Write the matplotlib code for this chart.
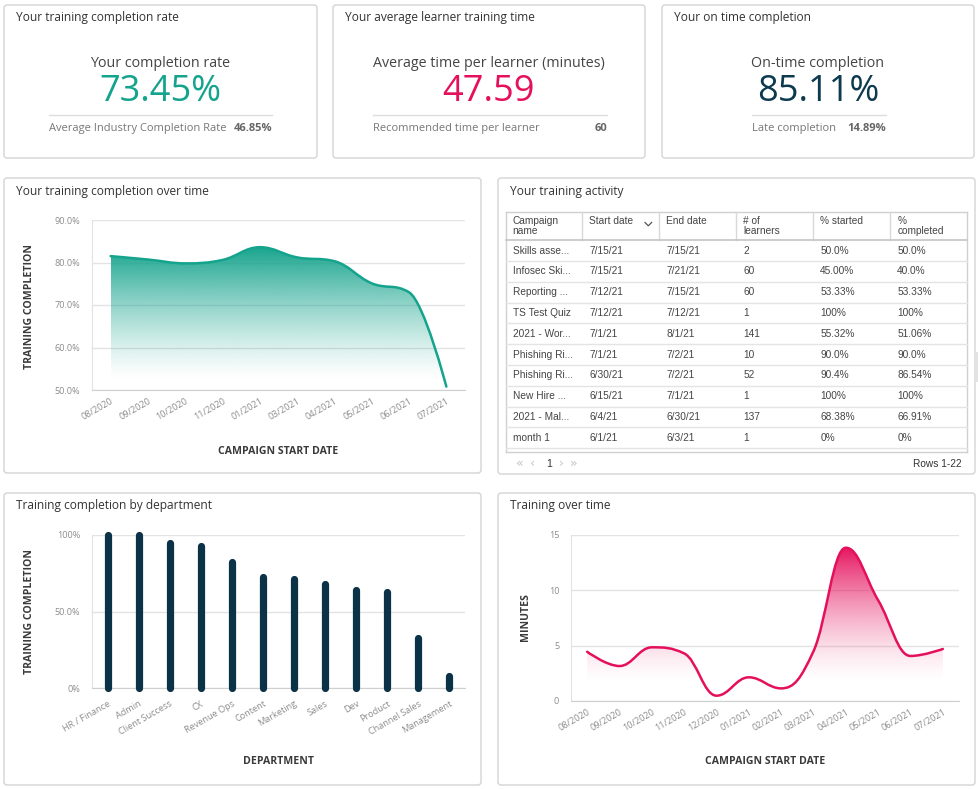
import numpy as np
import matplotlib.pyplot as plt
from matplotlib.path import Path
from matplotlib.patches import PathPatch, FancyBboxPatch, Rectangle
from matplotlib.colors import to_rgb

plt.rcParams['font.family'] = ['Open Sans', 'DejaVu Sans']

W, H = 979, 789

# ── DATA ────────────────────────────────────────────────────────────────────
completion_months = ['08/2020', '09/2020', '10/2020', '11/2020', '01/2021',
                     '03/2021', '04/2021', '05/2021', '06/2021', '07/2021']
completion_rate = [81.5, 80.7, 79.8, 80.6, 83.6, 81.2, 80.3, 75.1, 73.0, 50.8]

departments = ['HR / Finance', 'Admin', 'Client Success', 'CX', 'Revenue Ops',
               'Content', 'Marketing', 'Sales', 'Dev', 'Product',
               'Channel Sales', 'Management']
dept_completion = [100, 100, 95, 92.8, 82.5, 72.7, 71.4, 67.7, 64, 62.5, 32.7, 8.1]

minutes_months = ['08/2020', '09/2020', '10/2020', '11/2020', '12/2020', '01/2021',
                  '02/2021', '03/2021', '04/2021', '05/2021', '06/2021', '07/2021']
minutes = [4.45, 3.16, 4.85, 4.3, 0.48, 2.14, 1.14, 4.5, 13.85, 9.1, 4.07, 4.7]

kpi_titles = ['Your training completion rate', 'Your average learner training time',
              'Your on time completion']
kpi_labels = ['Your completion rate', 'Average time per learner (minutes)',
              'On-time completion']
kpi_values = ['73.45%', '47.59', '85.11%']
kpi_foot_labels = ['Average Industry Completion Rate', 'Recommended time per learner',
                   'Late completion']
kpi_foot_values = ['46.85%', '60', '14.89%']

table_headers = ['Campaign\nname', 'Start date', 'End date', '# of\nlearners',
                 '% started', '%\ncompleted']
table_rows = [
    ['Skills asse...', '7/15/21', '7/15/21', '2', '50.0%', '50.0%'],
    ['Infosec Ski...', '7/15/21', '7/21/21', '60', '45.00%', '40.0%'],
    ['Reporting ...', '7/12/21', '7/15/21', '60', '53.33%', '53.33%'],
    ['TS Test Quiz', '7/12/21', '7/12/21', '1', '100%', '100%'],
    ['2021 - Wor...', '7/1/21', '8/1/21', '141', '55.32%', '51.06%'],
    ['Phishing Ri...', '7/1/21', '7/2/21', '10', '90.0%', '90.0%'],
    ['Phishing Ri...', '6/30/21', '7/2/21', '52', '90.4%', '86.54%'],
    ['New Hire ...', '6/15/21', '7/1/21', '1', '100%', '100%'],
    ['2021 - Mal...', '6/4/21', '6/30/21', '137', '68.38%', '66.91%'],
    ['month 1', '6/1/21', '6/3/21', '1', '0%', '0%'],
]

TEAL = '#14a38c'
PINK = '#e5105b'
NAVY = '#0d3a4f'
BAR = '#0b3246'


def fig_rect(l, t, r, b):
    return [l / W, 1 - b / H, (r - l) / W, (b - t) / H]


def spline_path(xs, ys, smoothing=1.5):
    # bezier spline through the points, extremes kept at the points
    n = len(xs)
    lc, rc = [None] * n, [None] * n
    d = smoothing + 1
    for i in range(n):
        x, y = xs[i], ys[i]
        if i == 0 or i == n - 1:
            lc[i] = rc[i] = (x, y)
            continue
        lx, ly, nx, ny = xs[i - 1], ys[i - 1], xs[i + 1], ys[i + 1]
        lcx, lcy = (smoothing * x + lx) / d, (smoothing * y + ly) / d
        rcx, rcy = (smoothing * x + nx) / d, (smoothing * y + ny) / d
        corr = (rcy - lcy) * (rcx - x) / (rcx - lcx) + y - rcy
        lcy += corr
        rcy += corr
        if lcy > max(ly, y):
            lcy = max(ly, y); rcy = 2 * y - lcy
        elif lcy < min(ly, y):
            lcy = min(ly, y); rcy = 2 * y - lcy
        if rcy > max(ny, y):
            rcy = max(ny, y); lcy = 2 * y - rcy
        elif rcy < min(ny, y):
            rcy = min(ny, y); lcy = 2 * y - rcy
        lc[i], rc[i] = (lcx, lcy), (rcx, rcy)
    verts = [(xs[0], ys[0])]
    codes = [Path.MOVETO]
    for i in range(1, n):
        verts += [rc[i - 1], lc[i], (xs[i], ys[i])]
        codes += [Path.CURVE4] * 3
    return Path(verts, codes)


def gradient_area(ax, xs, ys, color, base, y_lo, y_hi, power):
    line = spline_path(xs, ys)
    verts = list(line.vertices) + [(xs[-1], base), (xs[0], base), (xs[0], ys[0])]
    codes = list(line.codes) + [Path.LINETO, Path.LINETO, Path.CLOSEPOLY]
    area = PathPatch(Path(verts, codes), fc='none', ec='none')
    ax.add_patch(area)
    t = np.linspace(0, 1, 256)
    rgba = np.zeros((256, 1, 4))
    rgba[..., :3] = to_rgb(color)
    rgba[:, 0, 3] = t ** power
    im = ax.imshow(rgba, extent=[xs[0], xs[-1], y_lo, y_hi], origin='lower',
                   aspect='auto', zorder=1, interpolation='bilinear')
    im.set_clip_path(area)
    ax.add_patch(PathPatch(line, fc='none', ec=color, lw=1.8, zorder=3,
                           capstyle='round', joinstyle='round'))


def style_chart(ax):
    ax.set_facecolor('none')
    for s in ['top', 'right']:
        ax.spines[s].set_visible(False)
    ax.spines['left'].set_color('#e2e2e2')
    ax.spines['bottom'].set_color('#cfcfcf')
    ax.grid(axis='y', color='#e3e3e3', lw=1)
    ax.set_axisbelow(True)
    ax.tick_params(length=0, labelsize=6.6, labelcolor='#8c8c8c')
    ax.tick_params(axis='y', pad=8.5)
    ax.tick_params(axis='x', pad=5)


fig = plt.figure(figsize=(W / 100, H / 100), dpi=100)
fig.patch.set_facecolor('white')
bg = fig.add_axes([0, 0, 1, 1])
bg.set_xlim(0, W)
bg.set_ylim(H, 0)
bg.axis('off')

# ── PANELS ─────────────────────────────────────────────────────────────────
panels = [(4, 5, 317, 158), (333, 5, 645, 158), (662, 5, 974, 158),
          (4, 178, 481, 473), (498, 178, 975, 474),
          (4, 493, 481, 785), (498, 493, 975, 785)]
for l, t, r, b in panels:
    bg.add_patch(FancyBboxPatch((l, t), r - l, b - t,
                                boxstyle='round,pad=0,rounding_size=3',
                                fc='white', ec='#d4d4d4', lw=1))
bg.add_patch(Rectangle((975, 352), 4, 30, fc='#e3e3e3', ec='none'))

# ── KPI CARDS ──────────────────────────────────────────────────────────────
card_lefts = [4, 333, 662]
card_centers = [160.5, 489, 818]
rule_spans = [(49, 272), (373, 607), (752, 886)]
value_colors = [TEAL, PINK, NAVY]
for i in range(3):
    bg.text(card_lefts[i] + 12, 17, kpi_titles[i], fontsize=8.6, color='#333333',
            va='center', ha='left')
    bg.text(card_centers[i], 63, kpi_labels[i], fontsize=10.3, color='#444444',
            va='center', ha='center')
    bg.text(card_centers[i], 92, kpi_values[i], fontsize=26, color=value_colors[i],
            va='center', ha='center')
    x0, x1 = rule_spans[i]
    bg.plot([x0, x1], [115, 115], color='#dddddd', lw=1)
    bg.text(x0, 128, kpi_foot_labels[i], fontsize=8.0, color='#777777',
            va='center', ha='left')
    bg.text(x1, 128, kpi_foot_values[i], fontsize=8.0, color='#666666',
            va='center', ha='right', fontweight='bold')

# ── PANEL TITLES & AXIS TITLES ─────────────────────────────────────────────
ptitle = dict(fontsize=8.6, color='#333333', va='center')
bg.text(16, 191, 'Your training completion over time', **ptitle)
bg.text(510, 191, 'Your training activity', **ptitle)
bg.text(16, 506, 'Training completion by department', **ptitle)
bg.text(510, 506, 'Training over time', **ptitle)

axis_title = dict(fontsize=7.6, fontweight='bold', color='#3a3a3a', ha='center', va='center')
bg.text(30, 306, 'TRAINING COMPLETION', rotation=90, **axis_title)
bg.text(278.5, 451, 'CAMPAIGN START DATE', **axis_title)
bg.text(30, 612, 'TRAINING COMPLETION', rotation=90, **axis_title)
bg.text(278.5, 761, 'DEPARTMENT', **axis_title)
bg.text(526, 617, 'MINUTES', rotation=90, **axis_title)
bg.text(765, 762, 'CAMPAIGN START DATE', **axis_title)

# ── TABLE ──────────────────────────────────────────────────────────────────
col_edges = [505.7, 582.3, 659.3, 736.3, 813.3, 890.3, 967.3]
head_top, head_bot, row_h = 211.7, 240.2, 20.8
table_bot = 452.3
tfont = dict(family=['Liberation Sans', 'DejaVu Sans'], fontsize=7.3, color='#444444')
bg.plot([col_edges[0], col_edges[-1]], [head_top, head_top], color='#d0d0d0', lw=1)
bg.plot([col_edges[0], col_edges[-1]], [table_bot, table_bot], color='#d0d0d0', lw=1)
bg.plot([col_edges[0], col_edges[0]], [head_top, table_bot], color='#d0d0d0', lw=1)
bg.plot([col_edges[-1], col_edges[-1]], [head_top, table_bot], color='#d0d0d0', lw=1)
for x in col_edges[1:-1]:
    bg.plot([x, x], [head_top, head_bot], color='#d8d8d8', lw=1)
bg.plot([col_edges[0], col_edges[-1]], [head_bot, head_bot], color='#c4c4c4', lw=1.2)
for j, h in enumerate(table_headers):
    bg.text(col_edges[j] + 7, 215.5, h, va='top', ha='left', linespacing=1.05, **tfont)
bg.plot([645, 648.3, 651.6], [222.5, 225.8, 222.5], color='#555555', lw=0.9)
for i, row in enumerate(table_rows):
    y_top = head_bot + i * row_h
    for j, cell in enumerate(row):
        bg.text(col_edges[j] + 7, y_top + row_h / 2, cell, va='center', ha='left', **tfont)
    y_line = y_top + row_h
    bg.plot([col_edges[0], col_edges[-1]], [y_line, y_line], color='#e4e4e4', lw=1)
pager = dict(family=['DejaVu Sans'], fontsize=9, va='center', ha='center')
for x, s in [(520, '«'), (533, '‹'), (561, '›'), (574, '»')]:
    bg.text(x, 463, s, color='#c4c4c4', **pager)
bg.text(549, 464, '1', family=['Liberation Sans', 'DejaVu Sans'], fontsize=7.5,
        color='#333333', va='center', ha='center')
bg.text(962, 464, 'Rows 1-22', family=['Liberation Sans', 'DejaVu Sans'], fontsize=7.3,
        color='#333333', va='center', ha='right')

# ── CHART 1: training completion over time ─────────────────────────────────
ax1 = fig.add_axes(fig_rect(92, 220, 465, 390))
style_chart(ax1)
x1 = np.arange(len(completion_months))
gradient_area(ax1, x1, completion_rate, TEAL, 50, 52, 84, 1.3)
ax1.set_xlim(-0.5, len(completion_months) - 0.5)
ax1.set_ylim(50, 90)
ax1.set_yticks([50, 60, 70, 80, 90])
ax1.set_yticklabels([f'{v:.1f}%' for v in [50, 60, 70, 80, 90]])
ax1.set_xticks(x1)
ax1.set_xticklabels(completion_months, rotation=30, ha='right', rotation_mode='anchor')

# ── CHART 2: completion by department ──────────────────────────────────────
ax2 = fig.add_axes(fig_rect(92, 535, 465, 688))
style_chart(ax2)
x2 = np.arange(len(departments))
ax2.vlines(x2, 0, dept_completion, color=BAR, lw=5.2, capstyle='round',
           clip_on=False, zorder=3)
ax2.set_xlim(-0.5, len(departments) - 0.5)
ax2.set_ylim(0, 100)
ax2.set_yticks([0, 50, 100])
ax2.set_yticklabels(['0%', '50.0%', '100%'])
ax2.set_xticks(x2)
ax2.set_xticklabels(departments, rotation=30, ha='right', rotation_mode='anchor')
ax2.tick_params(axis='x', pad=8)

# ── CHART 3: training minutes over time ────────────────────────────────────
ax3 = fig.add_axes(fig_rect(571, 535, 959, 701))
style_chart(ax3)
x3 = np.arange(len(minutes_months))
gradient_area(ax3, x3, minutes, PINK, 0, 1.5, 14, 1.5)
ax3.set_xlim(-0.5, len(minutes_months) - 0.5)
ax3.set_ylim(0, 15)
ax3.set_yticks([0, 5, 10, 15])
ax3.set_xticks(x3)
ax3.set_xticklabels(minutes_months, rotation=30, ha='right', rotation_mode='anchor')

fig.savefig('out.png', dpi=100, facecolor='white')
